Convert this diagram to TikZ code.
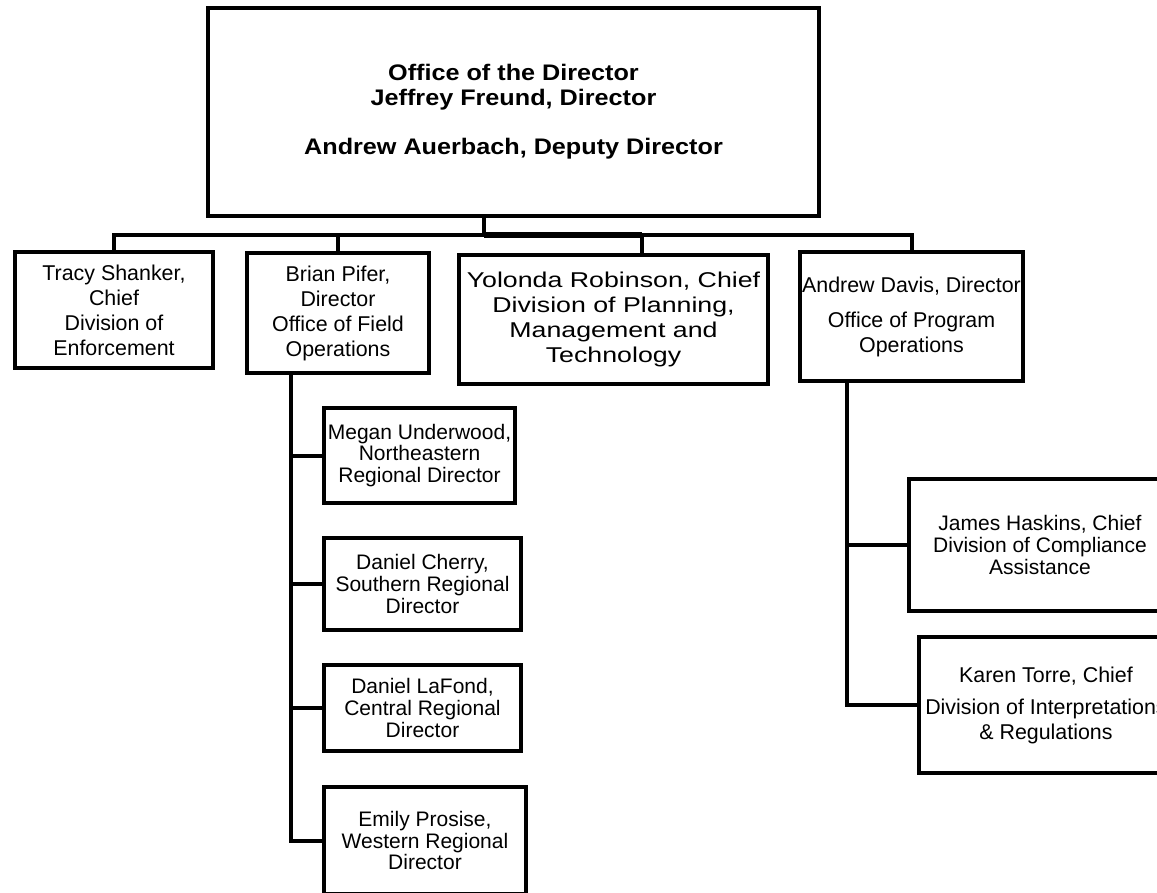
\documentclass[tikz,border=0pt]{standalone}
\usepackage{fontspec}
\setmainfont{Liberation Sans}
\newfontfamily\widesans[FakeStretch=1.25]{Liberation Sans}
\newfontfamily\topsans[FakeStretch=1.12]{Liberation Sans}
\begin{document}
\begin{tikzpicture}[x=1pt,y=-1pt,line width=4pt,
    box/.style={draw,align=center,inner sep=0pt,font=\fontsize{21.4}{25}\selectfont},
    subbox/.style={box,font=\fontsize{21}{21.7}\selectfont}]
  \useasboundingbox (0,0) rectangle (1157,892);
  \node[box,minimum width=611pt,minimum height=208pt,
    font=\topsans\bfseries\fontsize{22.5}{25}\selectfont] (D) at (513.5,112)
    {Office of the Director\\Jeffrey Freund, Director\\[24pt]Andrew Auerbach, Deputy Director};
  \node[box,minimum width=198pt,minimum height=116pt] (T) at (114,310)
    {Tracy Shanker,\\Chief\\Division of\\Enforcement};
  \node[box,minimum width=182pt,minimum height=120pt] (B) at (338,313)
    {Brian Pifer,\\Director\\Office of Field\\Operations};
  \node[box,minimum width=309pt,minimum height=129pt,
    font=\widesans\fontsize{21.4}{25}\selectfont] (Y) at (613.5,319.5)
    {Yolonda Robinson, Chief\\Division of Planning,\\Management and\\Technology};
  \node[box,minimum width=223pt,minimum height=129pt] (AD) at (911.5,316.5)
    {Andrew Davis, Director\\[10pt]Office of Program\\Operations};
  \node[subbox,minimum width=191pt,minimum height=95pt] (M) at (419.5,455.5)
    {Megan Underwood,\\Northeastern\\Regional Director};
  \node[subbox,minimum width=197pt,minimum height=92pt] (C) at (422.5,584)
    {Daniel Cherry,\\Southern Regional\\Director};
  \node[subbox,minimum width=197pt,minimum height=86pt] (L) at (422.5,708)
    {Daniel LaFond,\\Central Regional\\Director};
  \node[subbox,minimum width=202pt,minimum height=107pt] (E) at (425,840.5)
    {Emily Prosise,\\Western Regional\\Director};
  \node[subbox,minimum width=262pt,minimum height=132pt] (J) at (1040,545)
    {James Haskins, Chief\\Division of Compliance\\Assistance};
  \node[box,minimum width=254pt,minimum height=136pt] (K) at (1046,705)
    {Karen Torre, Chief\\[7pt]Division of Interpretations\\\& Regulations};
  \coordinate (bus) at (484,235); \coordinate (ybus) at (642,235);
  \draw (D.south -| bus) -- (bus);
  \draw (T.north) |- (bus) -| (AD.north);
  \draw (B.north) -- (B.north |- bus);
  \draw (ybus) -- (ybus |- Y.north);
  \draw[line width=6.5pt] (bus) -- (ybus);
  \coordinate (bs) at (291,0); \coordinate (as) at (847,0);
  \foreach \n in {M,C,L,E} \draw (B.south -| bs) |- (\n.west);
  \foreach \n in {J,K} \draw (AD.south -| as) |- (\n.west);
\end{tikzpicture}
\end{document}
